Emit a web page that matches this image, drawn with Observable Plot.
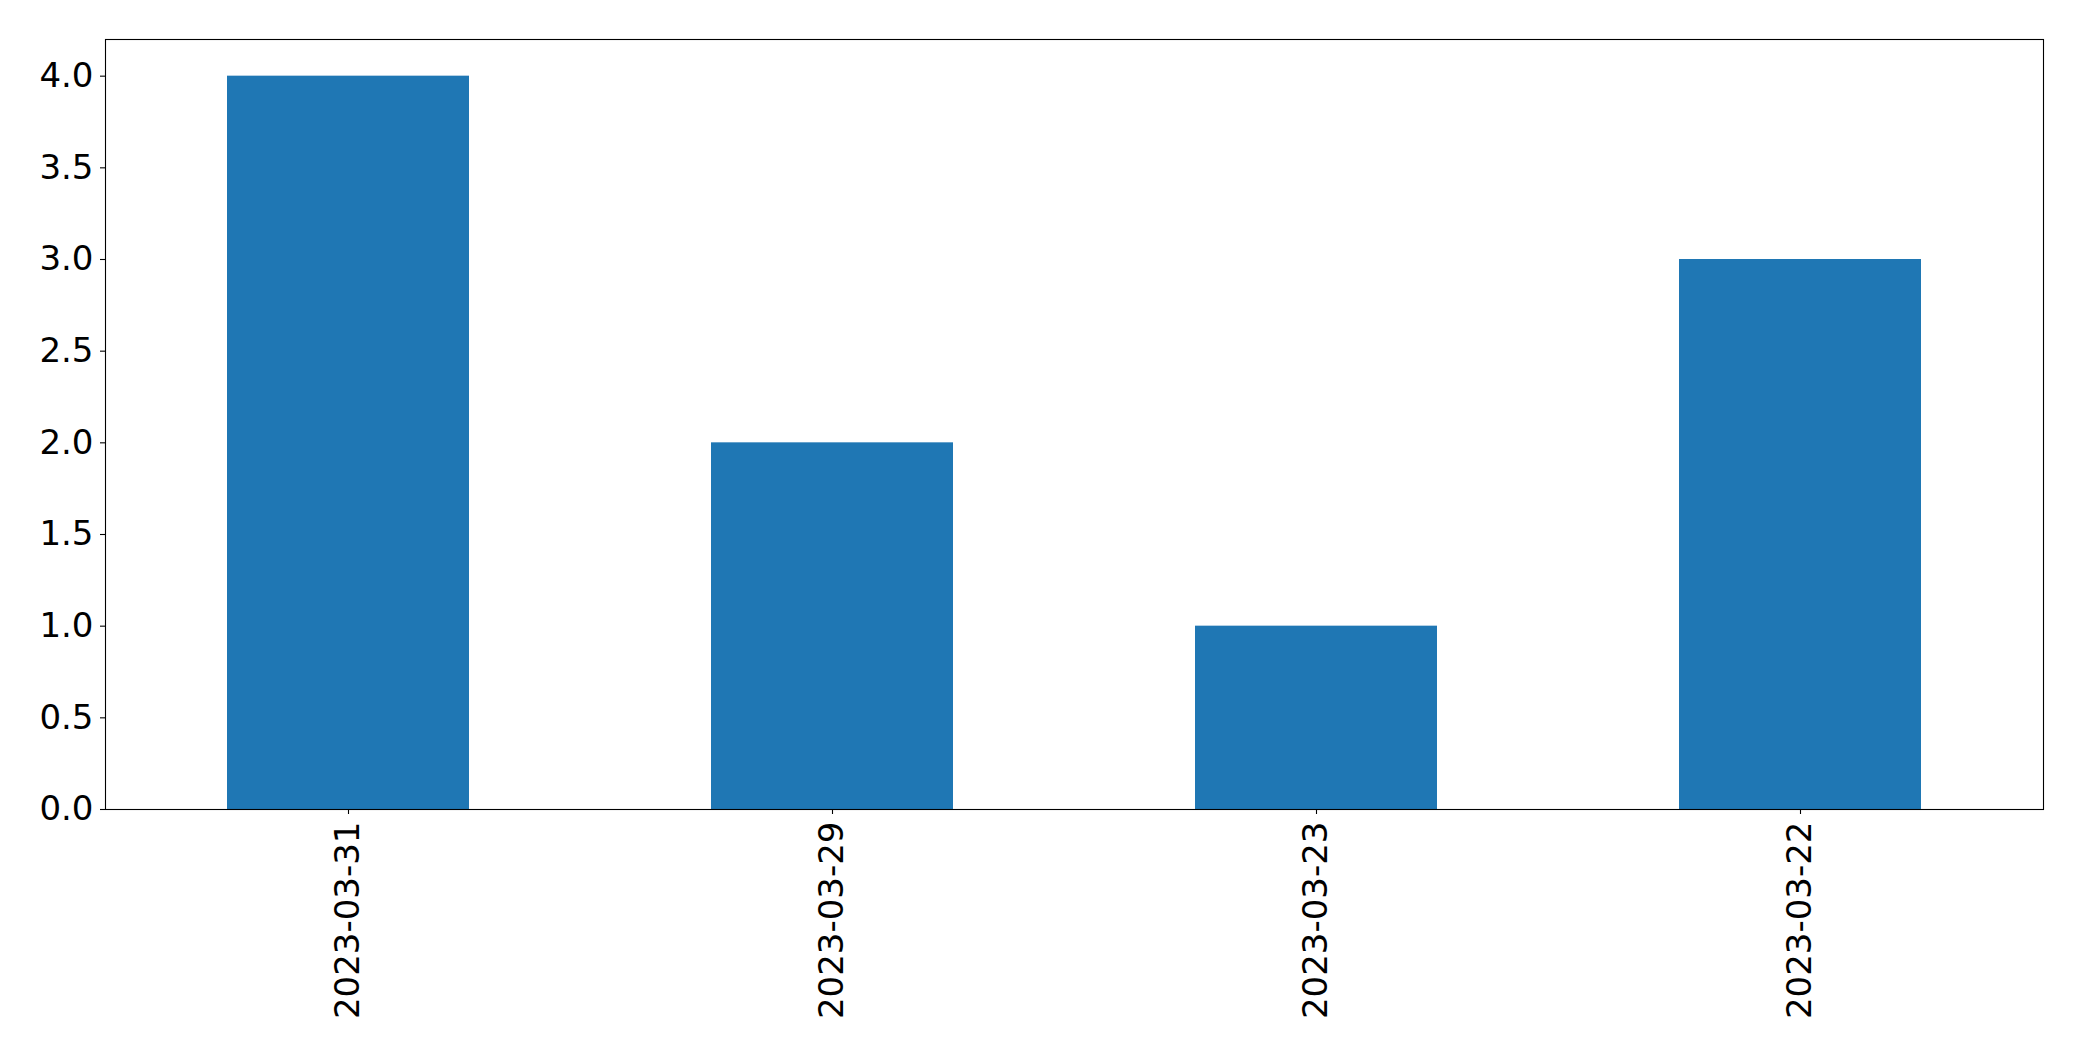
<!DOCTYPE html>
<html>
<head>
<meta charset="utf-8">
<script src="https://cdn.jsdelivr.net/npm/d3@7"></script>
<script src="https://cdn.jsdelivr.net/npm/@observablehq/plot@0.6"></script>
<style>
  html, body { margin: 0; padding: 0; background: #fff; }
  #chart svg { display: block; }
</style>
</head>
<body>
<div id="chart"></div>
<script>
const dates = ["2023-03-31", "2023-03-29", "2023-03-23", "2023-03-22"];
const counts = [4, 2, 1, 3];
const yTicks = [0, 0.5, 1, 1.5, 2, 2.5, 3, 3.5, 4];

const data = dates.map((d, i) => ({date: d, count: counts[i]}));

const chart = Plot.plot({
  width: 2082,
  height: 1061,
  marginLeft: 105,
  marginRight: 39,
  marginTop: 39,
  marginBottom: 252,
  style: {fontFamily: "DejaVu Sans", fontSize: "34px", color: "#000", background: "#fff"},
  x: {domain: dates, paddingInner: 0.5, paddingOuter: 0.25, label: null},
  y: {domain: [0, 4.2], label: null},
  marks: [
    Plot.barY(data, {x: "date", y: "count", fill: "#1f77b4"}),
    Plot.frame({stroke: "#000", strokeWidth: 1.1}),
    Plot.axisY({ticks: yTicks, tickFormat: d3.format(".1f"), tickSize: 5, tickPadding: 7, fontSize: 34, strokeWidth: 1.1, label: null}),
    Plot.axisX({tickRotate: -90, tickSize: 5, tickPadding: 7, fontSize: 34, strokeWidth: 1.1, label: null})
  ]
});
document.getElementById("chart").appendChild(chart);
</script>
</body>
</html>
